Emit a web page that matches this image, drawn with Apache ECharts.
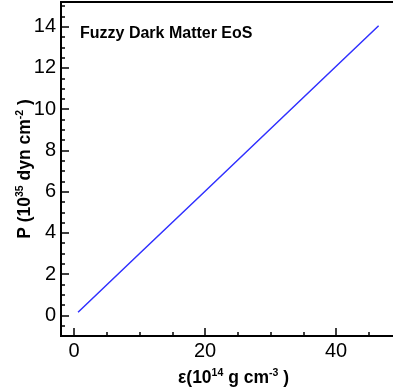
<!DOCTYPE html>
<html>
<head>
<meta charset="utf-8">
<script src="https://cdn.jsdelivr.net/npm/echarts@6/dist/echarts.min.js"></script>
<style>
  html, body { margin: 0; padding: 0; background: #fff; }
  #chart { width: 393px; height: 392px; }
</style>
</head>
<body>
<div id="chart"></div>
<script>
// EoS curve, energy density (1e14 g/cm^3) vs pressure (1e35 dyn/cm^2)
const epsilon = [0.6, 10, 20, 30, 46.5];
const pressure = [0.15, 3.0, 6.02, 9.05, 14.05];

const xMajorTicks = [0, 20, 40];
const xMinorTicks = [0, 5, 10, 15, 20, 25, 30, 35, 40, 45];
const yMajorTicks = [0, 2, 4, 6, 8, 10, 12, 14];
const yMinorTicks = [];
for (let v = -0.5; v <= 15; v += 0.5) yMinorTicks.push(v);

const chart = echarts.init(document.getElementById('chart'));

const font = 'Arial, "Liberation Sans", sans-serif';
const axisCol = '#000';

const nameRich = {
  b: { fontFamily: font, fontSize: 17.5, fontWeight: 'bold', color: '#000', lineHeight: 20 },
  s: { fontFamily: font, fontSize: 10.5, fontWeight: 'bold', color: '#000', verticalAlign: 'top', lineHeight: 20 }
};

const xBase = {
  type: 'value', min: -2, max: 49, gridIndex: 0,
  splitLine: { show: false },
  axisLine: { show: true, onZero: false, lineStyle: { color: axisCol, width: 2 } }
};
const yBase = {
  type: 'value', min: -1, max: 15.2, gridIndex: 0,
  splitLine: { show: false },
  axisLine: { show: true, onZero: false, lineStyle: { color: axisCol, width: 2 } }
};

chart.setOption({
  animation: false,
  grid: { left: 61, top: 2, right: -2, bottom: 56, containLabel: false, outerBoundsMode: 'none' },
  title: {
    text: 'Fuzzy Dark Matter EoS',
    left: 75, top: 21,
    textStyle: { fontFamily: font, fontSize: 16, fontWeight: 'bold', color: '#000' }
  },
  xAxis: [
    Object.assign({}, xBase, {
      position: 'bottom',
      axisTick: { show: true, inside: true, length: 8, customValues: xMajorTicks, lineStyle: { color: axisCol, width: 1.5 } },
      axisLabel: { show: true, customValues: xMajorTicks, margin: 5, fontFamily: font, fontSize: 20, color: '#000' },
      name: '{b|ε(10}{s|14}{b| g cm}{s|-3}{b| )}',
      nameLocation: 'middle', nameGap: 32, nameMoveOverlap: false,
      nameTextStyle: { rich: nameRich, padding: [0, 0, 0, 11] }
    }),
    Object.assign({}, xBase, {
      position: 'bottom',
      axisTick: { show: true, inside: true, length: 4, customValues: xMinorTicks, lineStyle: { color: axisCol, width: 1.5 } },
      axisLabel: { show: false }
    }),
    Object.assign({}, xBase, {
      position: 'top',
      axisTick: { show: false },
      axisLabel: { show: false }
    })
  ],
  yAxis: [
    Object.assign({}, yBase, {
      position: 'left',
      axisTick: { show: true, inside: true, length: 8, customValues: yMajorTicks, lineStyle: { color: axisCol, width: 1.5 } },
      axisLabel: { show: true, customValues: yMajorTicks, margin: 5, fontFamily: font, fontSize: 20, color: '#000' },
      name: '{b|P (10}{s|35}{b| dyn cm}{s|-2}{b| )}',
      nameLocation: 'middle', nameRotate: 90, nameGap: 26, nameMoveOverlap: false,
      nameTextStyle: { rich: nameRich }
    }),
    Object.assign({}, yBase, {
      position: 'left',
      axisTick: { show: true, inside: true, length: 4, customValues: yMinorTicks, lineStyle: { color: axisCol, width: 1.5 } },
      axisLabel: { show: false }
    })
  ],
  series: [{
    type: 'line',
    xAxisIndex: 0, yAxisIndex: 0,
    data: epsilon.map((e, i) => [e, pressure[i]]),
    showSymbol: false,
    lineStyle: { color: '#3030ff', width: 1.5 }
  }]
});
</script>
</body>
</html>
